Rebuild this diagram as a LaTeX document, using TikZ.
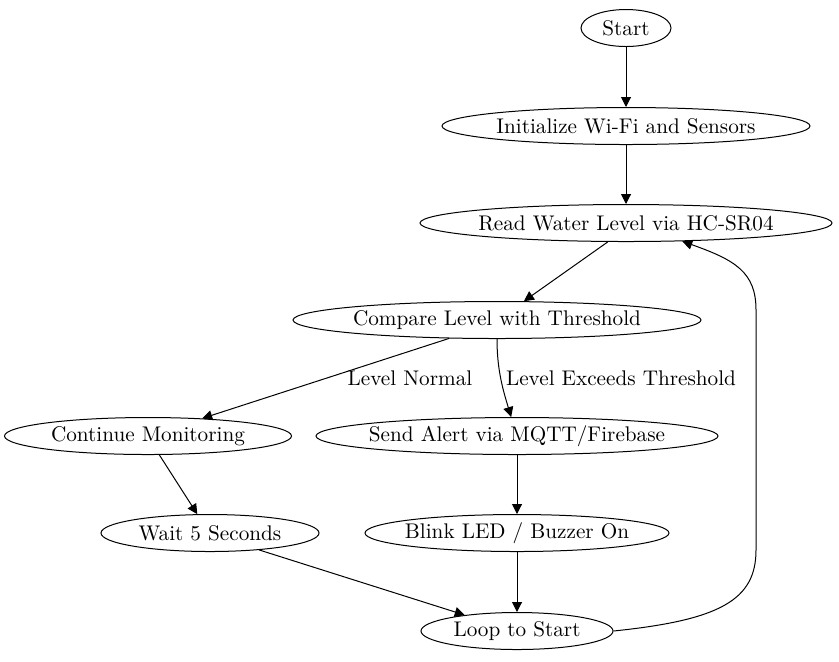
\documentclass[tikz,border=0pt]{standalone}
\usepackage{amsmath}
\usepackage{tikz}
\usetikzlibrary{shapes.geometric,arrows.meta}

\tikzset{
  stepnode/.style={draw, ellipse, line width=0.5pt, inner xsep=-8pt, inner ysep=0pt, minimum height=18.5pt, font=\fontsize{10.6}{12}\selectfont},
  flow/.style={-{Triangle[length=5pt, width=5pt]}, line width=0.5pt},
  edgelabel/.style={font=\fontsize{10.6}{12}\selectfont}
}

\begin{document}
\begin{tikzpicture}[x=0.5pt, y=-0.5pt]
\useasboundingbox (0,0) rectangle (839,661);
% nodes
\node[stepnode, minimum width=45pt] (start) at (626,28) {Start};
\node[stepnode, minimum width=184pt] (init) at (626,126) {Initialize Wi-Fi and Sensors};
\node[stepnode, minimum width=206pt] (read) at (626,223) {Read Water Level via HC-SR04};
\node[stepnode, minimum width=204pt] (compare) at (497,320) {Compare Level with Threshold};
\node[stepnode, minimum width=143.5pt] (continue) at (148,436) {Continue Monitoring};
\node[stepnode, minimum width=201pt] (send) at (517,436) {Send Alert via MQTT/Firebase};
\node[stepnode, minimum width=109pt] (wait) at (210,533) {Wait 5 Seconds};
\node[stepnode, minimum width=152pt] (blink) at (517,533) {Blink LED / Buzzer On};
\node[stepnode, minimum width=96pt] (loop) at (517,631) {Loop to Start};

% edge labels
\node[edgelabel] (normal) at (410,378) {Level Normal};
\node[edgelabel, anchor=west] (exceeds) at (499,378) {Level Exceeds Threshold};

% edges
\draw[flow] (start) -- (init);
\draw[flow] (init) -- (read);
\draw[flow] (read.226) -- (compare.35);
\draw[flow] (compare.201) -- (continue.18);
\draw[flow] (compare.south) .. controls (497,370) and (503,390) .. (send.107);
\draw[flow] (continue.-59) -- (wait.124);
\draw[flow] (send) -- (blink);
\draw[flow] (blink) -- (loop);
\draw[flow] (wait.-19) -- (loop.163);
\draw[flow] (loop.east) .. controls (720,620) and (756,600) .. (756,550)
  -- (756,310) .. controls (756,272) and (735,260) .. (read.-18);
\end{tikzpicture}
\end{document}
